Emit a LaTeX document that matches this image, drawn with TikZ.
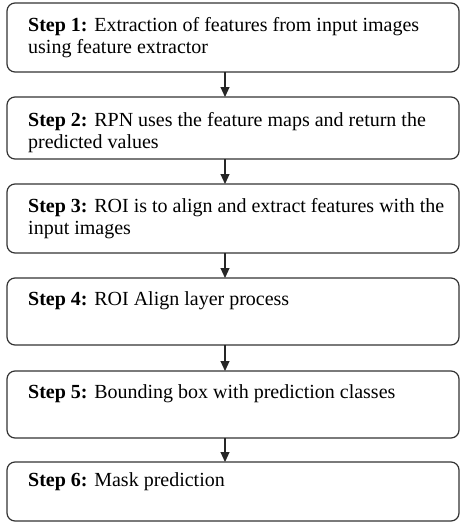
\documentclass[tikz,border=0pt]{standalone}
\usepackage{fontspec}
\setmainfont{Liberation Serif}
\usetikzlibrary{arrows.meta}
\begin{document}
\begin{tikzpicture}[x=1pt,y=-1pt,
  stepbox/.style={draw=black!80, line width=1.2pt, rounded corners=8pt},
  steptext/.style={anchor=base west, inner sep=0pt, align=left, font=\fontsize{20}{22}\selectfont, text=black},
  flow/.style={draw=black!85, line width=1.1pt, -{Triangle[width=9pt,length=10pt]}}]
\useasboundingbox (0,0) rectangle (460,522);
\coordinate (ax) at (225,0);
\coordinate (b1t) at (233,3); \coordinate (b1b) at (233,72);
\coordinate (b2t) at (233,97); \coordinate (b2b) at (233,159);
\coordinate (b3t) at (233,184); \coordinate (b3b) at (233,253);
\coordinate (b4t) at (233,278); \coordinate (b4b) at (233,345);
\coordinate (b5t) at (233,371); \coordinate (b5b) at (233,438);
\coordinate (b6t) at (233,462); \coordinate (b6b) at (233,521);
\draw[stepbox] (7,3) rectangle (459,72);
\draw[stepbox] (7,97) rectangle (459,159);
\draw[stepbox] (7,184) rectangle (459,253);
\draw[stepbox] (7,278) rectangle (459,345);
\draw[stepbox] (7,371) rectangle (459,438);
\draw[stepbox] (7,462) rectangle (459,521);
\node[steptext] (t1) at (28,53) {\textbf{Step 1:} Extraction of features from input images\\using feature extractor};
\node[steptext] (t2) at (28,148) {\textbf{Step 2:} RPN uses the feature maps and return the\\predicted values};
\node[steptext] (t3) at (28,234) {\textbf{Step 3:} ROI is to align and extract features with the\\input images};
\node[steptext] (t4) at (28,305) {\textbf{Step 4:} ROI Align layer process};
\node[steptext] (t5) at (28,398) {\textbf{Step 5:} Bounding box with prediction classes};
\node[steptext] (t6) at (28,486) {\textbf{Step 6:} Mask prediction};
\draw[flow] (b1b -| ax) -- (b2t -| ax);
\draw[flow] (b2b -| ax) -- (b3t -| ax);
\draw[flow] (b3b -| ax) -- (b4t -| ax);
\draw[flow] (b4b -| ax) -- (b5t -| ax);
\draw[flow] (b5b -| ax) -- (b6t -| ax);
\end{tikzpicture}
\end{document}
